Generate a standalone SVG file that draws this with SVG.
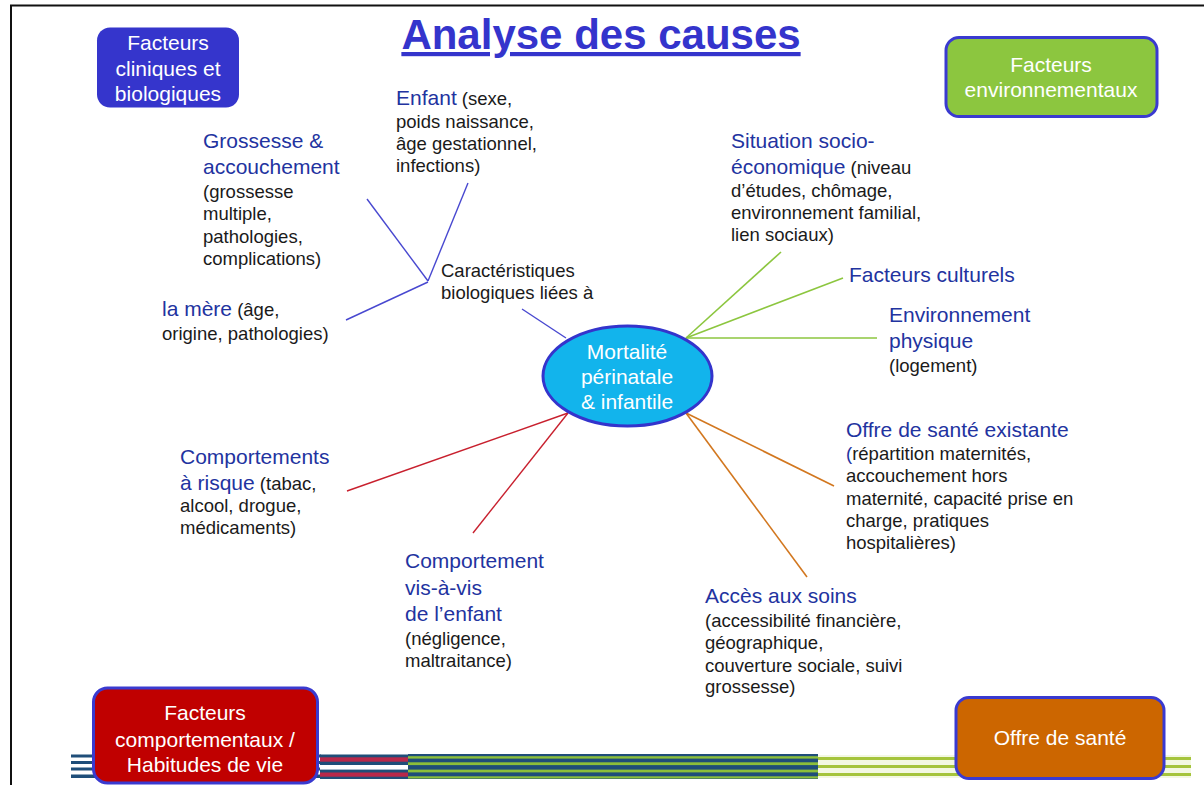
<svg xmlns="http://www.w3.org/2000/svg" width="1204" height="785" viewBox="0 0 1204 785">
<style>
text{font-family:"Liberation Sans",Arial,sans-serif}
.h{font-size:21px;fill:#2233a0}
.b{font-size:18.5px;fill:#1a1a1a}
.w{font-size:21px;fill:#ffffff;text-anchor:middle}
.box{stroke:#3a3ad0;stroke-width:3}
.lb{stroke:#4848d0;stroke-width:1.4;fill:none}
.lg{stroke:#8cc63f;stroke-width:1.6;fill:none}
.lo{stroke:#d2771f;stroke-width:1.6;fill:none}
.lr{stroke:#c8202e;stroke-width:1.4;fill:none}
</style>
<rect width="1204" height="785" fill="#ffffff"/>
<g id="frame" stroke="#111" stroke-width="2" fill="none">
<line x1="10" y1="5.5" x2="1204" y2="5.5"/>
<line x1="11" y1="5" x2="11" y2="785"/>
</g>
<g id="stripes">
<rect x="71" y="754.5" width="250" height="3" fill="#1f4e79"/>
<rect x="71" y="761" width="250" height="3" fill="#1f4e79"/>
<rect x="71" y="767.5" width="250" height="3" fill="#1f4e79"/>
<rect x="71" y="774.5" width="250" height="3.5" fill="#1f4e79"/>
<rect x="320" y="754.5" width="88" height="24.5" fill="#1f4e79"/>
<rect x="320" y="757.3" width="88" height="4.4" fill="#b8284a"/>
<rect x="320" y="765" width="88" height="4.6" fill="#ffffff"/>
<rect x="320" y="772.5" width="88" height="4.2" fill="#b8284a"/>
<rect x="408" y="754" width="410" height="25" fill="#1f4e79"/>
<rect x="408" y="756.2" width="410" height="2.4" fill="#8cbf3a"/>
<rect x="408" y="762.3" width="410" height="2.8" fill="#8cbf3a"/>
<rect x="408" y="769.6" width="410" height="2.8" fill="#8cbf3a"/>
<rect x="408" y="776.3" width="410" height="2.2" fill="#8cbf3a"/>
<rect x="818" y="755" width="373" height="23" fill="#f3f8e2"/>
<rect x="818" y="757" width="373" height="3" fill="#a5c43c"/>
<rect x="818" y="765" width="373" height="3" fill="#a5c43c"/>
<rect x="818" y="773" width="373" height="3" fill="#a5c43c"/>
</g>
<text id="title" x="601" y="49" text-anchor="middle" font-size="42" font-weight="bold" fill="#3434cc" text-decoration="underline">Analyse des causes</text>
<g id="connectors">
<line class="lb" x1="367" y1="199" x2="428" y2="281"/>
<line class="lb" x1="468" y1="183" x2="428" y2="281"/>
<line class="lb" x1="346" y1="320" x2="428" y2="282"/>
<line class="lb" x1="522" y1="309" x2="566" y2="338"/>
<line class="lg" x1="686" y1="338" x2="781" y2="252"/>
<line class="lg" x1="686" y1="338" x2="843" y2="278"/>
<line class="lg" x1="686" y1="338" x2="877" y2="338"/>
<line class="lo" x1="686" y1="413" x2="834" y2="486"/>
<line class="lo" x1="686" y1="413" x2="807" y2="577"/>
<line class="lr" x1="568" y1="413" x2="347" y2="491"/>
<line class="lr" x1="568" y1="413" x2="473" y2="533"/>
</g>
<g id="n-clin">
<rect x="97" y="27.5" width="142" height="80" rx="13" fill="#3535cc"/>
<text class="w" x="168" y="50">Facteurs</text>
<text class="w" x="168" y="76">cliniques et</text>
<text class="w" x="168" y="101">biologiques</text>
</g>
<g id="n-env">
<rect class="box" x="946" y="37.5" width="211" height="79" rx="13" fill="#8cc63f"/>
<text class="w" x="1051" y="72">Facteurs</text>
<text class="w" x="1051" y="97">environnementaux</text>
</g>
<g id="n-comp">
<rect class="box" x="93.5" y="688" width="224" height="95" rx="14" fill="#c00000"/>
<text class="w" x="205" y="720">Facteurs</text>
<text class="w" x="205" y="747">comportementaux /</text>
<text class="w" x="205" y="772">Habitudes de vie</text>
</g>
<g id="n-offre">
<rect class="box" x="956" y="697.5" width="208" height="81" rx="13" fill="#cc6600"/>
<text class="w" x="1060" y="745">Offre de santé</text>
</g>
<g id="n-center">
<ellipse cx="627.5" cy="376" rx="84.5" ry="50" fill="#12b4ec" stroke="#3434cc" stroke-width="3"/>
<text class="w" x="627" y="359">Mortalité</text>
<text class="w" x="627" y="384">périnatale</text>
<text class="w" x="627" y="409">&amp; infantile</text>
</g>
<g id="n-enfant">
<text x="396" y="105"><tspan class="h">Enfant</tspan><tspan class="b"> (sexe,</tspan></text>
<text class="b" x="396" y="128">poids naissance,</text>
<text class="b" x="396" y="150">âge gestationnel,</text>
<text class="b" x="396" y="172">infections)</text>
</g>
<g id="n-grossesse">
<text class="h" x="203" y="148">Grossesse &amp;</text>
<text class="h" x="203" y="174">accouchement</text>
<text class="b" x="203" y="198">(grossesse</text>
<text class="b" x="203" y="220">multiple,</text>
<text class="b" x="203" y="243">pathologies,</text>
<text class="b" x="203" y="265">complications)</text>
</g>
<g id="n-mere">
<text x="162" y="316"><tspan class="h">la mère</tspan><tspan class="b"> (âge,</tspan></text>
<text class="b" x="162" y="340">origine, pathologies)</text>
</g>
<g id="n-carac">
<text class="b" x="441" y="277" font-size="17">Caractéristiques</text>
<text class="b" x="441" y="299" font-size="17">biologiques liées à</text>
</g>
<g id="n-socio">
<text class="h" x="731" y="148">Situation socio-</text>
<text x="731" y="174"><tspan class="h">économique</tspan><tspan class="b"> (niveau</tspan></text>
<text class="b" x="731" y="197">d’études, chômage,</text>
<text class="b" x="731" y="219">environnement familial,</text>
<text class="b" x="731" y="241">lien sociaux)</text>
</g>
<g id="n-cult">
<text class="h" x="849" y="282">Facteurs culturels</text>
</g>
<g id="n-phys">
<text class="h" x="889" y="322">Environnement</text>
<text class="h" x="889" y="348">physique</text>
<text class="b" x="889" y="372">(logement)</text>
</g>
<g id="n-offre-ex">
<text class="h" x="846" y="437">Offre de santé existante</text>
<text x="846" y="460"><tspan class="b" fill="#2233a0" style="fill:#2233a0">(</tspan><tspan class="b">répartition maternités,</tspan></text>
<text class="b" x="846" y="482">accouchement hors</text>
<text class="b" x="846" y="505">maternité, capacité prise en</text>
<text class="b" x="846" y="527">charge, pratiques</text>
<text class="b" x="846" y="549">hospitalières)</text>
</g>
<g id="n-acces">
<text class="h" x="705" y="603">Accès aux soins</text>
<text class="b" x="705" y="627">(accessibilité financière,</text>
<text class="b" x="705" y="649">géographique,</text>
<text class="b" x="705" y="672">couverture sociale, suivi</text>
<text class="b" x="705" y="693">grossesse)</text>
</g>
<g id="n-risque">
<text class="h" x="180" y="464">Comportements</text>
<text x="180" y="490"><tspan class="h">à risque</tspan><tspan class="b"> (tabac,</tspan></text>
<text class="b" x="180" y="512">alcool, drogue,</text>
<text class="b" x="180" y="534">médicaments)</text>
</g>
<g id="n-visavis">
<text class="h" x="405" y="568">Comportement</text>
<text class="h" x="405" y="595">vis-à-vis</text>
<text class="h" x="405" y="621">de l’enfant</text>
<text class="b" x="405" y="645">(négligence,</text>
<text class="b" x="405" y="667">maltraitance)</text>
</g>
</svg>
